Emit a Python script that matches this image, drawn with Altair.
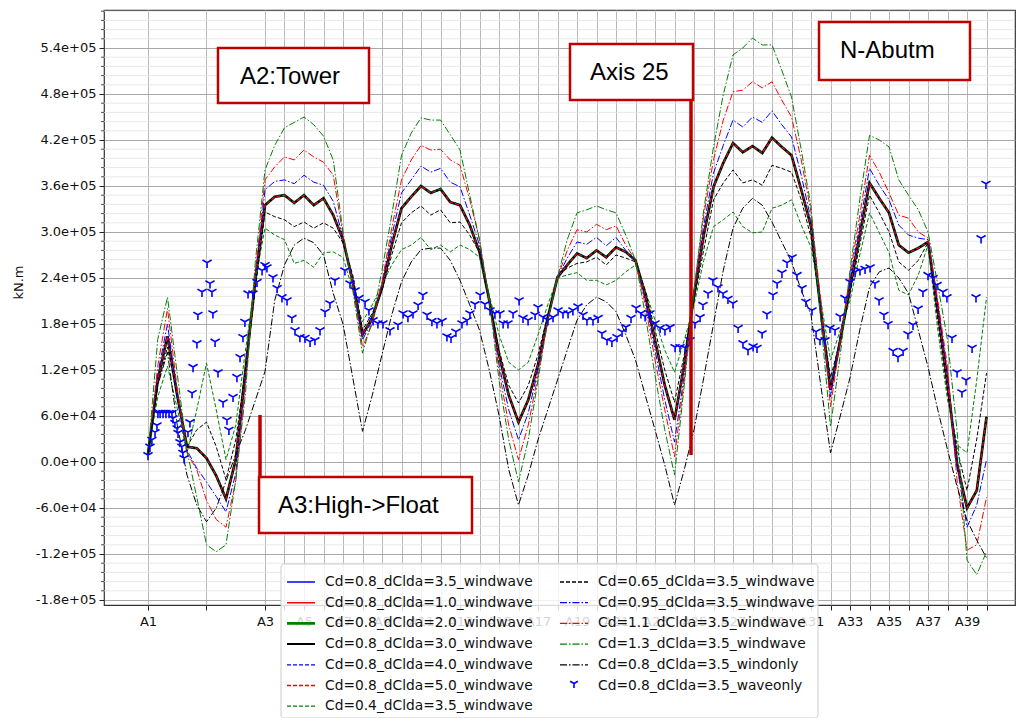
import altair as alt
import pandas as pd

# ---------------- data ----------------
# station coordinate along the bridge (A1=0, A2=3, A3=6, then one unit per axis)
x_u = [0, 0.5, 1, 1.5, 2, 2.5, 3, 3.5, 4, 4.5, 5, 5.5,
       6, 6.5, 7, 7.5, 8, 8.5, 9, 9.5, 10, 10.5, 11, 11.5,
       12, 12.5, 13, 13.5, 14, 14.5, 15, 15.5, 16, 16.5, 17, 17.5,
       18, 18.5, 19, 19.5, 20, 20.5, 21, 21.5, 22, 22.5, 23, 23.5,
       24, 24.5, 25, 25.5, 26, 26.5, 27, 27.5, 28, 28.5, 29, 29.5,
       30, 30.5, 31, 31.5, 32, 32.5, 33, 33.5, 34, 34.5, 35, 35.5,
       36, 36.5, 37, 37.5, 38, 38.5, 39, 39.5, 40, 40.5, 41, 41.5,
       42, 42.5, 43]

axis_names = ["A1", "A2", "A3", "A4", "A5", "A6", "A7", "A8", "A9", "A10",
              "A11", "A12", "A13", "A14", "A15", "A16", "A17", "A18", "A19", "A20",
              "A21", "A22", "A23", "A24", "A25", "A26", "A27", "A28", "A29", "A30",
              "A31", "A32", "A33", "A34", "A35", "A36", "A37", "A38", "A39", "A40"]
axis_u = [0, 3, 6, 7, 8, 9, 10, 11, 12, 13,
          14, 15, 16, 17, 18, 19, 20, 21, 22, 23,
          24, 25, 26, 27, 28, 29, 30, 31, 32, 33,
          34, 35, 36, 37, 38, 39, 40, 41, 42, 43]
label_names = ["A1", "A3", "A5", "A7", "A9", "A11", "A13", "A15", "A17", "A19",
               "A21", "A23", "A25", "A27", "A29", "A31", "A33", "A35", "A37", "A39"]
label_u = [0, 6, 8, 10, 12, 14, 16, 18, 20, 22,
           24, 26, 28, 30, 32, 34, 36, 38, 40, 42]

y_ticks = [-180000, -120000, -60000, 0, 60000, 120000, 180000,
           240000, 300000, 360000, 420000, 480000, 540000]
y_minor_step = 12000

# moments in 1000 kN.m
main_k = [10, 107, 164, 87, 20, 18, 5, -18, -48, 3, 120, 237,
          335, 346, 348, 338, 348, 335, 344, 322, 290, 235, 166, 188,
          227, 283, 331, 346, 360, 351, 356, 339, 335, 309, 274, 211,
          140, 87, 52, 81, 127, 188, 241, 257, 272, 266, 276, 267,
          280, 274, 263, 218, 159, 100, 55, 127, 218, 296, 359, 390,
          416, 404, 412, 403, 423, 411, 400, 355, 307, 198, 94, 159,
          228, 296, 364, 344, 325, 283, 273, 279, 287, 198, 103, -4,
          -60, -37, 59]
dclda10_k = main_k
dclda20_k = main_k
dclda30_k = main_k
dclda40_k = main_k
dclda50_k = main_k

cd04_k = [10, 85, 125, 70, 12, 68, 129, 68, 3, 48, 146, 237,
          305, 296, 290, 259, 263, 254, 273, 274, 267, 224, 183, 205,
          231, 257, 277, 283, 293, 277, 283, 274, 283, 277, 267, 218,
          166, 130, 120, 130, 166, 205, 240, 244, 247, 237, 237, 231,
          237, 248, 257, 224, 185, 146, 117, 159, 205, 263, 307, 316,
          326, 307, 299, 300, 331, 335, 342, 309, 280, 211, 133, 172,
          211, 270, 325, 299, 273, 224, 218, 244, 283, 172, 81, 22,
          12, 107, 215]
cd065_k = [10, 100, 150, 85, 20, 42, 52, 20, -23, 29, 120, 225,
           326, 320, 316, 307, 313, 305, 312, 305, 286, 244, 172, 194,
           224, 270, 312, 325, 334, 322, 329, 312, 313, 296, 273, 211,
           146, 100, 77, 100, 140, 192, 241, 253, 259, 261, 267, 257,
           270, 266, 261, 224, 172, 120, 78, 140, 211, 277, 342, 364,
           381, 364, 368, 361, 387, 383, 378, 342, 293, 198, 110, 159,
           220, 283, 348, 325, 300, 261, 250, 263, 286, 185, 90, 16,
           -37, 30, 116]
cd095_k = [10, 115, 180, 88, 15, -8, -26, -45, -65, -15, 110, 240,
           355, 366, 368, 363, 374, 365, 361, 340, 293, 235, 159, 185,
           232, 295, 351, 368, 386, 378, 383, 365, 359, 322, 283, 211,
           127, 68, 29, 64, 120, 185, 241, 266, 287, 284, 293, 282,
           293, 276, 263, 211, 146, 81, 26, 113, 222, 309, 377, 413,
           446, 437, 450, 443, 458, 440, 424, 374, 316, 205, 85, 166,
           237, 309, 383, 361, 342, 309, 296, 292, 290, 205, 116, -7,
           -85, -56, 3]
cd11_k = [10, 125, 200, 95, 12, -10, -50, -75, -85, -25, 100, 245,
          368, 385, 398, 394, 407, 398, 391, 374, 296, 231, 150, 180,
          235, 305, 368, 394, 413, 407, 408, 394, 387, 342, 290, 211,
          120, 48, 3, 48, 113, 185, 241, 276, 303, 300, 310, 303,
          308, 283, 263, 205, 133, 68, 7, 107, 224, 322, 394, 446,
          483, 485, 496, 488, 496, 472, 450, 394, 326, 211, 72, 159,
          244, 322, 400, 378, 351, 322, 318, 300, 292, 211, 124, -27,
          -115, -108, -46]
cd13_k = [10, 160, 215, 115, 15, -46, -108, -117, -108, -23, 90, 260,
          381, 413, 436, 443, 450, 440, 425, 394, 300, 224, 142, 185,
          250, 322, 400, 429, 449, 446, 446, 427, 407, 348, 290, 211,
          107, 29, -26, 29, 107, 185, 241, 290, 325, 329, 334, 329,
          325, 296, 263, 192, 113, 42, -17, 100, 224, 329, 411, 479,
          531, 540, 553, 544, 544, 511, 476, 407, 333, 185, 46, 140,
          250, 342, 426, 420, 411, 368, 348, 329, 300, 231, 159, 38,
          -128, -147, -117]
windonly_k = [10, 100, 143, 48, -17, -56, -78, -60, -25, 10, 42, 80,
              118, 211, 257, 283, 292, 286, 270, 220, 180, 110, 40, 87,
              140, 192, 235, 261, 277, 279, 279, 263, 237, 205, 172, 120,
              61, -10, -56, -17, 29, 68, 107, 146, 185, 205, 215, 209,
              196, 166, 133, 87, 42, -4, -56, -10, 42, 110, 180, 250,
              305, 331, 344, 335, 313, 287, 261, 224, 192, 100, 12, 60,
              110, 172, 228, 248, 253, 240, 220, 172, 124, 68, 16, -33,
              -76, -102, -125]

wave_u = [0, 0.1, 0.2, 0.36, 0.46, 0.51, 0.62, 0.77, 0.92, 1.08, 1.23, 1.28, 1.38,
          1.49, 1.54, 1.64, 1.74, 1.79, 1.85,
          2.05, 2.15, 2.26, 2.31, 2.51, 2.56, 2.77, 3.03, 3.18, 3.28, 3.33, 3.44,
          3.59, 3.85, 4.05, 4.15, 4.36, 4.56, 4.72, 4.87, 4.97, 5.13, 5.38, 5.59,
          5.85, 6.0, 6.1, 6.41, 6.62, 6.87, 7.13, 7.38, 7.54, 7.79, 8.05, 8.31,
          8.56, 8.82, 9.08, 9.33, 9.59, 10.1, 10.36, 10.62, 10.82, 11.13, 11.33,
          11.54, 11.79, 12.05, 12.41, 12.82, 13.08, 13.33, 13.59, 13.85, 14.1,
          14.31, 14.56, 14.82, 15.08, 15.33, 15.54, 15.79, 16.1, 16.36, 16.51,
          16.77, 17.03, 17.28, 17.54, 17.79, 18.05, 18.21, 18.46, 18.72, 19.03,
          19.23, 19.49, 19.85, 20.0, 20.26, 20.51, 20.77, 21.03, 21.28, 21.54,
          21.79, 22.05, 22.31, 22.51, 22.82, 23.08, 23.28, 23.54, 23.79, 24.05,
          24.31, 24.51, 24.77, 25.03, 25.28, 25.49, 25.74, 26.0, 26.26, 26.51,
          26.77, 27.03, 27.28, 27.54, 27.79, 28.05, 28.31, 28.46, 28.72, 28.97,
          29.23, 29.49, 29.74, 30.0, 30.26, 30.51, 30.77, 31.03, 31.23, 31.49,
          31.74, 32.05, 32.26, 32.51, 32.77, 33.03, 33.28, 33.54, 33.74, 34.05,
          34.26, 34.46, 34.72, 34.97, 35.23, 35.49, 35.74, 36.0, 36.26, 36.51,
          36.77, 37.03, 37.28, 37.49, 37.74, 37.95, 38.21, 38.46, 38.72, 38.97,
          39.23, 39.49, 39.74, 40.0, 40.26, 40.46, 40.77, 40.97, 41.23, 41.49,
          41.74, 41.95, 42.26, 42.46, 42.72, 42.97]
wave_k = [9, 20, 29, 39, 48, 64, 64, 64, 64, 64, 64, 57, 51,
          44, 38, 26, 20, 12, 5,
          39, 52, 90, 124, 155, 192, 222, 260, 233, 222, 194, 157,
          117, 78, 55, 42, 85, 111, 137, 163, 183, 220, 220, 235,
          250, 257, 254, 241, 227, 215, 211, 188, 172, 163, 162, 157,
          159, 172, 196, 207, 237, 250, 233, 224, 214, 209, 198,
          185, 181, 181, 172, 179, 194, 189, 194, 205, 218,
          192, 184, 181, 184, 164, 162, 170, 181, 185, 194,
          206, 218, 206, 198, 194, 194, 181, 181, 194, 211,
          188, 185, 192, 202, 189, 185, 189, 198, 194, 194,
          198, 203, 192, 185, 185, 188, 168, 159, 157, 163,
          170, 176, 188, 201, 194, 190, 194, 181, 175, 172,
          176, 150, 150, 149, 159, 181, 189, 205, 220, 237,
          228, 220, 213, 207, 175, 155, 146, 151, 149, 168,
          193, 218, 233, 247, 260, 267, 244, 227, 209, 198,
          170, 159, 159, 175, 172, 190, 214, 235, 248, 250,
          252, 254, 233, 211, 192, 180, 145, 137, 145, 167,
          179, 200, 222, 244, 240, 231, 222, 215, 162, 117,
          91, 107, 149, 215, 292, 363]

BLUE, RED, GREEN, BLACK = "#0000ff", "#ff0000", "#008000", "#000000"
SOLID, DASH, DASHDOT = [1, 0], [4, 2], [7, 2, 1.5, 2]

series = [
    ("Cd=0.8_dClda=3.5_windwave", main_k, BLUE, SOLID, 1.4),
    ("Cd=0.8_dClda=1.0_windwave", dclda10_k, RED, SOLID, 1.4),
    ("Cd=0.8_dClda=2.0_windwave", dclda20_k, GREEN, SOLID, 2.8),
    ("Cd=0.8_dClda=3.0_windwave", dclda30_k, BLACK, SOLID, 2.0),
    ("Cd=0.8_dClda=4.0_windwave", dclda40_k, BLUE, DASH, 1.1),
    ("Cd=0.8_dClda=5.0_windwave", dclda50_k, RED, DASH, 1.1),
    ("Cd=0.4_dClda=3.5_windwave", cd04_k, GREEN, DASH, 1.0),
    ("Cd=0.65_dClda=3.5_windwave", cd065_k, BLACK, DASH, 1.0),
    ("Cd=0.95_dClda=3.5_windwave", cd095_k, BLUE, DASHDOT, 1.0),
    ("Cd=1.1_dClda=3.5_windwave", cd11_k, RED, DASHDOT, 1.0),
    ("Cd=1.3_dClda=3.5_windwave", cd13_k, GREEN, DASHDOT, 1.0),
    ("Cd=0.8_dClda=3.5_windonly", windonly_k, BLACK, DASHDOT, 1.0),
]
wave_name = "Cd=0.8_dClda=3.5_waveonly"

# ---------------- layout ----------------
W, H = 911, 595
XS = alt.Scale(domain=[-2.256, 44.46], nice=False, zero=False)
YS = alt.Scale(domain=[-186522, 589565], nice=False, zero=False)
FONT = "DejaVu Sans"
TRI_DOWN = "M0,0L0,1M0,0L-0.87,-0.5M0,0L0.87,-0.5"

x_expr = "''"
for u, n in reversed(list(zip(label_u, label_names))):
    x_expr = f"datum.value == {u} ? '{n}' : ({x_expr})"

y_expr = ("datum.value == 0 ? '0.0e+00' : ((datum.value < 0 ? '-' : '') + "
          "(abs(datum.value) >= 100000 ? format(abs(datum.value) / 100000, '.1f') + 'e+05' "
          ": format(abs(datum.value) / 10000, '.1f') + 'e+04'))")

x_axis = alt.Axis(values=axis_u, labelExpr=x_expr, grid=True, gridColor="#b0b0b0",
                  gridWidth=0.9, domain=False, ticks=True, tickSize=5, tickColor="#222",
                  labelFont=FONT, labelFontSize=13, labelColor="#111", labelPadding=5,
                  labelFlush=False, labelOverlap=False, title=None)
y_axis = alt.Axis(values=y_ticks, labelExpr=y_expr, grid=True, gridColor="#a0a0a0",
                  gridWidth=0.9, domain=False, ticks=True, tickSize=5, tickColor="#222",
                  labelFont=FONT, labelFontSize=13, labelColor="#111", labelPadding=3,
                  labelFlush=False, labelOverlap=False, title="kN.m", titleFont=FONT,
                  titleFontSize=13, titleFontWeight="normal", titleColor="#111",
                  titleX=-86, titleY=272, titleAngle=270, titleAlign="center",
                  titleBaseline="middle")

X_ENC = alt.X("u:Q", scale=XS, axis=x_axis)
Y_ENC = alt.Y("v:Q", scale=YS, axis=y_axis)

layers = []

# minor horizontal grid + minor ticks on the y axis
minor_vals = []
for t in y_ticks[:-1]:
    for j in range(1, 5):
        minor_vals.append(t + j * y_minor_step)
for j in range(1, 5):
    if y_ticks[-1] + j * y_minor_step < 589565:
        minor_vals.append(y_ticks[-1] + j * y_minor_step)
minor_df = pd.DataFrame({"v": minor_vals})
layers.append(alt.Chart(minor_df).mark_rule(color="#e2e2e2", strokeWidth=0.8).encode(
    y=Y_ENC, x=alt.value(0), x2=alt.value(W)))
layers.append(alt.Chart(minor_df).mark_rule(color="#222", strokeWidth=0.8).encode(
    y=Y_ENC, x=alt.value(-3), x2=alt.value(0)))

for i, (name, vals, color, dash, width) in enumerate(series):
    df = pd.DataFrame({"u": x_u, "v": [k * 1000 for k in vals], "s": name})
    layers.append(alt.Chart(df).mark_line(color=color, strokeDash=dash, strokeWidth=width,
                                          clip=True).encode(x=X_ENC, y=Y_ENC))

wave_df = pd.DataFrame({"u": wave_u, "v": [k * 1000 for k in wave_k]})
layers.append(alt.Chart(wave_df).mark_point(shape=TRI_DOWN, filled=False, color=BLUE,
                                            strokeWidth=1.6, size=110, opacity=1).encode(
    x=X_ENC, y=Y_ENC))

one = pd.DataFrame({"a": [0]})

# annotation boxes (pixel positions relative to the plot area)
ANN_RED = "#c00000"
boxes = [("A2:Tower", 114, 38, 265, 93, 136, 67),
         ("Axis 25", 466, 34, 589, 90, 486, 63),
         ("N-Abutm", 715, 12, 866, 70, 736, 41),
         ("A3:High->Float", 155, 467, 368, 523, 174, 496)]
for text, x1, y1, x2, y2, tx, ty in boxes:
    layers.append(alt.Chart(one).mark_rect(fill="white", stroke=ANN_RED, strokeWidth=2.5).encode(
        x=alt.value(x1), x2=alt.value(x2), y=alt.value(y1), y2=alt.value(y2)))
    layers.append(alt.Chart(one).mark_text(text=text, font="Liberation Sans", fontSize=24,
                                           align="left", baseline="middle", color="black").encode(
        x=alt.value(tx), y=alt.value(ty)))
for x0, ya, yb in [(156, 405, 467), (587, 90, 445)]:
    layers.append(alt.Chart(one).mark_rule(color=ANN_RED, strokeWidth=3.5).encode(
        x=alt.value(x0), y=alt.value(ya), y2=alt.value(yb)))

# legend (two columns, drawn inside the figure at the bottom)
layers.append(alt.Chart(one).mark_rect(fill="white", fillOpacity=0.82, stroke="#cccccc",
                                       strokeWidth=1, cornerRadius=3).encode(
    x=alt.value(177), x2=alt.value(714), y=alt.value(554), y2=alt.value(708)))
entries = [(s[0], s[2], s[3], s[4]) for s in series] + [(wave_name, BLUE, None, None)]
leg_rows = []
for i, (name, color, dash, width) in enumerate(entries):
    col, row = (0, i) if i < 7 else (1, i - 7)
    hx = 183 if col == 0 else 456
    ty = 572 + 20.7 * row
    leg_rows.append({"label": name, "tx": hx + 38, "ty": ty})
    if dash is None:
        layers.append(alt.Chart(one).mark_point(shape=TRI_DOWN, filled=False, color=color,
                                                strokeWidth=1.6, size=80, opacity=1).encode(
            x=alt.value(hx + 14), y=alt.value(ty - 2)))
    else:
        layers.append(alt.Chart(one).mark_rule(color=color, strokeDash=dash,
                                               strokeWidth=max(width, 1.3)).encode(
            x=alt.value(hx), x2=alt.value(hx + 28), y=alt.value(ty)))
leg_df = pd.DataFrame(leg_rows)
layers.append(alt.Chart(leg_df).mark_text(font=FONT, fontSize=13.8, align="left",
                                          baseline="middle", color="#111").encode(
    x=alt.X("tx:Q", scale=None), y=alt.Y("ty:Q", scale=None), text="label:N"))

chart = alt.layer(*layers).properties(
    width=W, height=H,
    padding={"left": 104, "top": 10, "right": 5, "bottom": 113},
    autosize=alt.AutoSizeParams(type="none"),
    background="white",
).configure_view(stroke="#333333", strokeWidth=1.2)

chart.save("out.html", embed_options={"renderer": "svg", "actions": False})
